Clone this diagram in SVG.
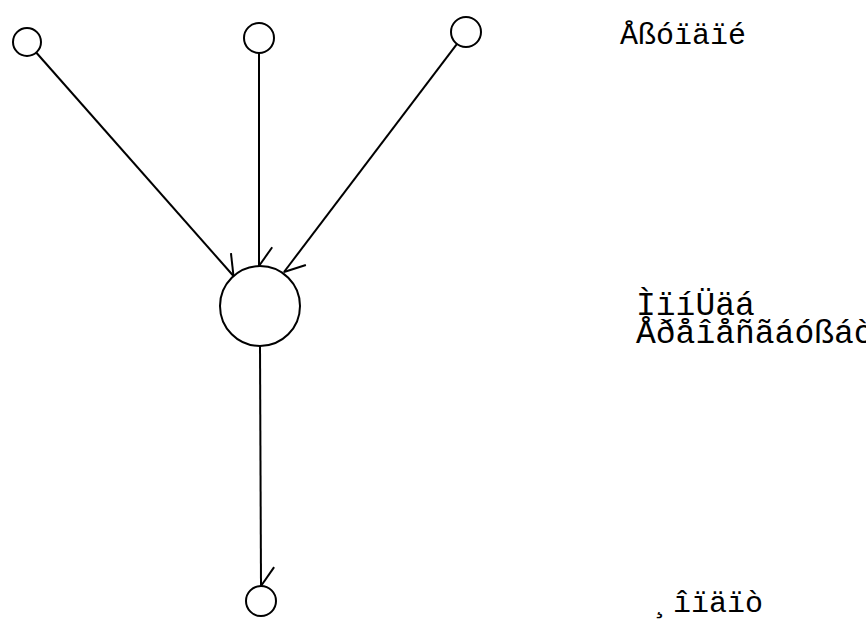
<svg xmlns="http://www.w3.org/2000/svg" width="866" height="623" viewBox="0 0 866 623">
  <style>
    .node { fill: #ffffff; stroke: #000000; stroke-width: 2; }
    .edge { fill: none; stroke: #000000; stroke-width: 2; }
    .label { font-family: "Liberation Mono", "Courier New", monospace; font-size: 30px; fill: #000000; }
    .label-lg { font-size: 33px; }
  </style>
  <defs>
    <!-- single-sided barb at the end of each connector -->
    <marker id="barb" markerUnits="userSpaceOnUse" markerWidth="40" markerHeight="40" refX="20" refY="20" orient="auto" viewBox="0 0 40 40">
      <path d="M20,20 L1.2,6.8" fill="none" stroke="#000000" stroke-width="2"/>
    </marker>
  </defs>
  <rect width="866" height="623" fill="#ffffff"/>

  <g id="connectors">
    <line class="edge" x1="35.3" y1="51.5" x2="233.5" y2="276" marker-end="url(#barb)"/>
    <line class="edge" x1="259" y1="53" x2="259" y2="266" marker-end="url(#barb)"/>
    <line class="edge" x1="457.6" y1="43.2" x2="284" y2="272" marker-end="url(#barb)"/>
    <line class="edge" x1="260" y1="346" x2="261" y2="586" marker-end="url(#barb)"/>
  </g>

  <g id="input1"><circle class="node" cx="27" cy="42" r="14"/></g>
  <g id="input2"><circle class="node" cx="259" cy="38" r="15"/></g>
  <g id="input3"><circle class="node" cx="466" cy="32" r="15"/></g>
  <g id="unit"><circle class="node" cx="260" cy="306" r="40"/></g>
  <g id="output"><circle class="node" cx="261" cy="601" r="15"/></g>

  <g id="labels">
    <text class="label" x="620" y="44">Åßóïäïé</text>
    <text class="label label-lg" x="636" y="315">ÌïíÜäá</text>
    <text class="label label-lg" x="636" y="343">Åðåîåñãáóßáò</text>
    <text class="label" x="655" y="612">¸îïäïò</text>
  </g>
</svg>
